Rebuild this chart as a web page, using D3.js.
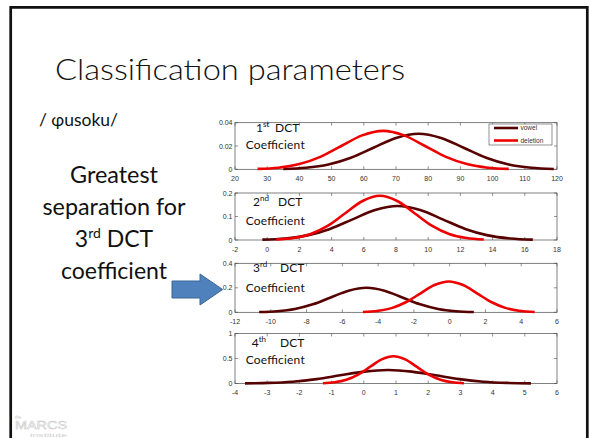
<!DOCTYPE html>
<html>
<head>
<meta charset="utf-8">
<script src="https://cdn.jsdelivr.net/npm/d3@7"></script>
<style>
  html, body { margin: 0; padding: 0; background: #fff; }
  svg { display: block; }
</style>
</head>
<body>
<svg id="slide" width="590" height="438"></svg>
<script>
// ---- Data: density curves for each DCT coefficient, sampled as [value, density] ----
const dct1Vowel = [[35,0.0003],[42,0.0013],[49,0.0041],[56,0.0099],[63,0.0185],[70,0.0269],[77,0.0305],[84,0.0269],[91,0.0185],[98,0.0099],[105,0.0041],[112,0.0013],[119,0.0003]];
const dct1Deletion = [[27,0.0004],[33.5,0.0014],[40,0.0045],[46.5,0.0107],[53,0.0200],[59.5,0.0291],[66,0.0330],[72.5,0.0291],[79,0.0200],[85.5,0.0107],[92,0.0045],[98.5,0.0014],[105,0.0004]];

const dct2Vowel = [[-0.3,0.0016],[1.1,0.0064],[2.5,0.0196],[3.9,0.0471],[5.3,0.0879],[6.7,0.1280],[8.1,0.145],[9.5,0.1280],[10.9,0.0879],[12.3,0.0471],[13.7,0.0196],[15.1,0.0064],[16.5,0.0016]];
const dct2Deletion = [[0.55,0.0021],[1.625,0.0083],[2.7,0.0254],[3.775,0.0610],[4.85,0.1140],[5.925,0.1659],[7,0.188],[8.075,0.1659],[9.15,0.1140],[10.225,0.0610],[11.3,0.0254],[12.375,0.0083],[13.45,0.0021]];

const dct3Vowel = [[-10.65,0.0022],[-9.65,0.0088],[-8.65,0.0271],[-7.65,0.0649],[-6.65,0.1213],[-5.65,0.1765],[-4.65,0.200],[-3.65,0.1765],[-2.65,0.1213],[-1.65,0.0649],[-0.65,0.0271],[0.35,0.0088],[1.35,0.0022]];
const dct3Deletion = [[-4.85,0.0028],[-4.05,0.0111],[-3.25,0.0341],[-2.45,0.0818],[-1.65,0.1528],[-0.85,0.2224],[-0.05,0.252],[0.75,0.2224],[1.55,0.1528],[2.35,0.0818],[3.15,0.0341],[3.95,0.0111],[4.75,0.0028]];

const dct4Vowel = [[-3.69,0.0030],[-2.95,0.0119],[-2.21,0.0365],[-1.47,0.0877],[-0.73,0.1638],[0.01,0.2383],[0.75,0.270],[1.49,0.2383],[2.23,0.1638],[2.97,0.0877],[3.71,0.0365],[4.45,0.0119],[5.19,0.0030]];
const dct4Deletion = [[-1.27,0.0061],[-0.905,0.0240],[-0.54,0.0739],[-0.175,0.1773],[0.19,0.3311],[0.555,0.4818],[0.92,0.546],[1.285,0.4818],[1.65,0.3311],[2.015,0.1773],[2.38,0.0739],[2.745,0.0240],[3.11,0.0061]];

// Axis ticks
const dct1XTicks = [20,30,40,50,60,70,80,90,100,110,120];
const dct2XTicks = [-2,0,2,4,6,8,10,12,14,16,18];
const dct3XTicks = [-12,-10,-8,-6,-4,-2,0,2,4,6];
const dct4XTicks = [-4,-3,-2,-1,0,1,2,3,4,5,6];
const dct1YTicks = [0,0.02,0.04];
const dct2YTicks = [0,0.1,0.2];
const dct3YTicks = [0,0.2,0.4];
const dct4YTicks = [0,0.5,1];

// Labels
const ordinals = ["1","2","3","4"];
const ordinalSuffixes = ["st","nd","rd","th"];
const seriesNames = ["vowel","deletion"];
const titleText = "Classification parameters";
const wordText = "/ \u0278usoku/";
const noteLines = ["Greatest","separation for","3|rd| DCT","coefficient"];

// ---- Drawing ----
const svg = d3.select("#slide");
const sansFont = "Lato, 'Open Sans', 'Noto Sans', sans-serif";
const plotFont = "'Liberation Sans', Arial, sans-serif";
const colVowel = "#560000";
const colDeletion = "#ee0000";

// slide frame
svg.append("path")
  .attr("d", "M10.7,445 L10.7,7.3 L587.3,7.3 L587.3,445")
  .attr("fill", "none").attr("stroke", "#111").attr("stroke-width", 2.7);

// title
svg.append("text")
  .attr("x", 55).attr("y", 80)
  .attr("font-family", sansFont).attr("font-weight", 300)
  .attr("font-size", 30).attr("fill", "#111")
  .attr("textLength", 350).attr("lengthAdjust", "spacingAndGlyphs")
  .text(titleText);

svg.append("text")
  .attr("x", 39).attr("y", 126)
  .attr("font-family", sansFont).attr("font-size", 18).attr("fill", "#111")
  .attr("textLength", 79).attr("lengthAdjust", "spacingAndGlyphs")
  .text(wordText);

// note block on the left
const noteBaselines = [183.3, 215, 246.7, 278.5];
const noteWidths = [88, 143, null, 106];
noteLines.forEach((line, i) => {
  const t = svg.append("text")
    .attr("x", 114).attr("y", noteBaselines[i])
    .attr("text-anchor", "middle")
    .attr("font-family", sansFont).attr("font-size", 23).attr("fill", "#111");
  if (line.includes("|")) {
    const parts = line.split("|");
    t.append("tspan").text(parts[0]);
    t.append("tspan").attr("font-size", 14).attr("dy", -9).text(parts[1]);
    t.append("tspan").attr("dy", 9).text(parts[2]);
  } else {
    t.text(line);
    if (noteWidths[i]) t.attr("textLength", noteWidths[i]).attr("lengthAdjust", "spacingAndGlyphs");
  }
});

// block arrow pointing at the third panel
svg.append("path")
  .attr("d", "M172,281 L200,281 L200,274 L222.7,289.5 L200,305 L200,298 L172,298 Z")
  .attr("fill", "#4f81bd").attr("stroke", "#3a6796").attr("stroke-width", 1);

// panels
const panels = [
  { curves: [dct1Vowel, dct1Deletion], xTicks: dct1XTicks, yTicks: dct1YTicks, top: 122.7, bottom: 169.3, fmtY: d => d === 0 ? "0" : d3.format(".2f")(d) },
  { curves: [dct2Vowel, dct2Deletion], xTicks: dct2XTicks, yTicks: dct2YTicks, top: 193, bottom: 240, fmtY: d => d === 0 ? "0" : d3.format(".1f")(d) },
  { curves: [dct3Vowel, dct3Deletion], xTicks: dct3XTicks, yTicks: dct3YTicks, top: 263.3, bottom: 312.3, fmtY: d => d === 0 ? "0" : d3.format(".1f")(d) },
  { curves: [dct4Vowel, dct4Deletion], xTicks: dct4XTicks, yTicks: dct4YTicks, top: 333.5, bottom: 383.5, fmtY: d => d === 0 ? "0" : (d === 1 ? "1" : d3.format(".1f")(d)) }
];
const left = 235, right = 557;
const labelPos = [
  { num: [256, 132], dct: 275, coef: 149 },
  { num: [253, 206], dct: 278, coef: 224.5 },
  { num: [253, 272.3], dct: 280, coef: 292 },
  { num: [251.7, 346.7], dct: 280, coef: 364.3 }
];

panels.forEach((p, i) => {
  const xs = d3.scaleLinear().domain(d3.extent(p.xTicks)).range([left, right]);
  const ys = d3.scaleLinear().domain(d3.extent(p.yTicks)).range([p.bottom, p.top]);
  const g = svg.append("g");

  // box
  g.append("rect")
    .attr("x", left).attr("y", p.top)
    .attr("width", right - left).attr("height", p.bottom - p.top)
    .attr("fill", "#fff").attr("stroke", "#4a4a4a").attr("stroke-width", 0.7);

  // inward ticks on all sides
  const tl = 3;
  p.xTicks.forEach(v => {
    const x = xs(v);
    g.append("line").attr("x1", x).attr("x2", x).attr("y1", p.bottom).attr("y2", p.bottom - tl).attr("stroke", "#4a4a4a").attr("stroke-width", 0.6);
    g.append("line").attr("x1", x).attr("x2", x).attr("y1", p.top).attr("y2", p.top + tl).attr("stroke", "#4a4a4a").attr("stroke-width", 0.6);
    g.append("text").attr("x", x).attr("y", p.bottom + 11.5)
      .attr("text-anchor", "middle").attr("font-family", plotFont).attr("font-size", 7).attr("fill", "#333")
      .text(String(v));
  });
  p.yTicks.forEach(v => {
    const y = ys(v);
    g.append("line").attr("x1", left).attr("x2", left + tl).attr("y1", y).attr("y2", y).attr("stroke", "#4a4a4a").attr("stroke-width", 0.6);
    g.append("line").attr("x1", right).attr("x2", right - tl).attr("y1", y).attr("y2", y).attr("stroke", "#4a4a4a").attr("stroke-width", 0.6);
    g.append("text").attr("x", left - 2.5).attr("y", y + 2.5)
      .attr("text-anchor", "end").attr("font-family", plotFont).attr("font-size", 7).attr("fill", "#333")
      .text(p.fmtY(v));
  });

  // curves
  const line = d3.line().x(d => xs(d[0])).y(d => ys(d[1])).curve(d3.curveCatmullRom.alpha(0.5));
  [colVowel, colDeletion].forEach((c, k) => {
    g.append("path").datum(p.curves[k])
      .attr("d", line).attr("fill", "none")
      .attr("stroke", c).attr("stroke-width", 2.6).attr("stroke-linejoin", "round");
  });

  // panel caption
  const lp = labelPos[i];
  const cap = g.append("text").attr("font-family", sansFont).attr("font-size", 12).attr("fill", "#111");
  cap.append("tspan").attr("x", lp.num[0]).attr("y", lp.num[1]).text(ordinals[i]);
  cap.append("tspan").attr("font-size", 8).attr("dy", -5).text(ordinalSuffixes[i]);
  cap.append("tspan").attr("x", lp.dct).attr("y", lp.num[1]).text("DCT");
  g.append("text").attr("x", 245.7).attr("y", lp.coef)
    .attr("font-family", sansFont).attr("font-size", 12).attr("fill", "#111")
    .attr("textLength", 59).attr("lengthAdjust", "spacing")
    .text("Coefficient");
});

// legend in the first panel
const lg = svg.append("g");
lg.append("rect").attr("x", 489).attr("y", 124).attr("width", 63).attr("height", 21)
  .attr("fill", "#fff").attr("stroke", "#4a4a4a").attr("stroke-width", 0.6);
[colVowel, colDeletion].forEach((c, k) => {
  const y = [128, 140.5][k];
  lg.append("line").attr("x1", 494).attr("x2", 518).attr("y1", y).attr("y2", y)
    .attr("stroke", c).attr("stroke-width", 2.6);
  lg.append("text").attr("x", 520.5).attr("y", y + 2.2)
    .attr("font-family", plotFont).attr("font-size", 6.5).attr("fill", "#333")
    .text(seriesNames[k]);
});

// institute mark, bottom left (faint outline lettering)
const logo = svg.append("g");
logo.append("text").attr("x", 15).attr("y", 419).attr("font-family", plotFont).attr("font-size", 4.5).attr("fill", "#c8c8c8").text("the");
logo.append("text").attr("x", 15).attr("y", 428.5)
  .attr("font-family", plotFont).attr("font-size", 11)
  .attr("fill", "#fff").attr("stroke", "#c4c4c4").attr("stroke-width", 0.45)
  .attr("textLength", 52).attr("lengthAdjust", "spacingAndGlyphs").text("MARCS");
logo.append("text").attr("x", 30).attr("y", 436.5).attr("font-family", plotFont).attr("font-size", 5)
  .attr("fill", "#cfcfcf").attr("textLength", 37).attr("lengthAdjust", "spacingAndGlyphs").text("institute");
</script>
</body>
</html>
